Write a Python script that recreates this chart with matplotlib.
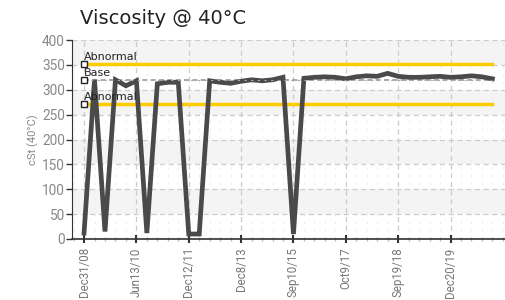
import matplotlib
matplotlib.use("Agg")
import matplotlib.pyplot as plt
from matplotlib.ticker import MultipleLocator
import numpy as np

title = "Viscosity @ 40°C"
ylabel = "cSt (40°C)"
tick_labels = ["Dec31/08", "Jun13/10", "Dec12/11", "Dec8/13", "Sep10/15",
               "Oct9/17", "Sep19/18", "Dec20/19"]
tick_index = [0, 5, 10, 15, 20, 25, 30, 35]

viscosity = [12, 320, 15, 320, 308, 318, 12, 312, 315, 315,
             10, 10, 318, 315, 313, 317, 320, 318, 320, 325,
             10, 323, 325, 326, 325, 322, 326, 328, 327, 333,
             327, 325, 325, 326, 327, 325, 326, 328, 326, 322]
abnormal_high = 352
base = 320
abnormal_low = 271

n = len(viscosity)
x = np.arange(n)

fig = plt.figure(figsize=(5.06, 3.0), dpi=100)
ax = fig.add_axes([72/506, 1-239/300, 1-72/506, 199/300])

tick_font = ["Roboto", "DejaVu Sans"]

# alternating bands
for lo in range(50, 400, 100):
    ax.axhspan(lo, lo + 50, color="#f4f4f4", zorder=0, lw=0)

ax.set_xlim(-1.15, 40.3)
ax.set_ylim(0, 400)

ax.yaxis.set_major_locator(MultipleLocator(50))
ax.set_xticks(tick_index)
ax.set_xticklabels(tick_labels, rotation=90, family=tick_font, fontsize=8.3, color="#777777")
ax.xaxis.set_minor_locator(MultipleLocator(1))
for lab in ax.get_yticklabels():
    lab.set_family(tick_font)
ax.tick_params(axis="y", labelsize=9.8, labelcolor="#888888", length=4, width=1, color="#333333", pad=1)
ax.tick_params(axis="x", which="major", length=6, width=1.5, direction="inout", color="#333333", pad=3)
ax.tick_params(axis="x", which="minor", length=3, width=1, direction="inout", color="#bbbbbb")

ax.grid(True, which="major", axis="both", ls=(0, (4, 3)), color="#cccccc", lw=0.9)
ax.grid(True, which="minor", axis="x", ls=(0, (2, 6)), color="#ececec", lw=0.7)
ax.set_axisbelow(True)

for s in ["top", "right"]:
    ax.spines[s].set_visible(False)
ax.spines["left"].set_color("#333333")
ax.spines["bottom"].set_color("#333333")
ax.spines["bottom"].set_linewidth(1.2)

ax.plot(x, [abnormal_high]*n, color="#ffcc00", lw=2.5, zorder=3)
ax.plot(x, [abnormal_low]*n, color="#ffcc00", lw=2.5, zorder=3)
ax.plot(x, [base]*n, color="#999999", lw=1.2, ls=(0, (3, 2)), zorder=3)
ax.plot(x, viscosity, color="#4a4a4a", lw=3.4, zorder=4, solid_joinstyle="miter")
ax.plot(x, [base]*n, color="#aaaaaa", lw=0.8, ls=(0, (2, 4)), zorder=5)

for val, name in [(abnormal_high, "Abnormal"), (base, "Base"), (abnormal_low, "Abnormal")]:
    ax.plot([0], [val], marker="s", ms=5, mfc="white", mec="#222222", mew=1, zorder=6, clip_on=False)
    ax.text(0, val + 4, name, fontsize=8, color="#222222", ha="left", va="bottom",
            family=["DejaVu Sans"], zorder=7)

ax.set_ylabel(ylabel, fontsize=8, color="#888888", family=tick_font, labelpad=2)
fig.text(80/506, 1-18/300, title, fontsize=14, color="#222222", ha="left", va="center")

fig.savefig("out.png", dpi=100)
